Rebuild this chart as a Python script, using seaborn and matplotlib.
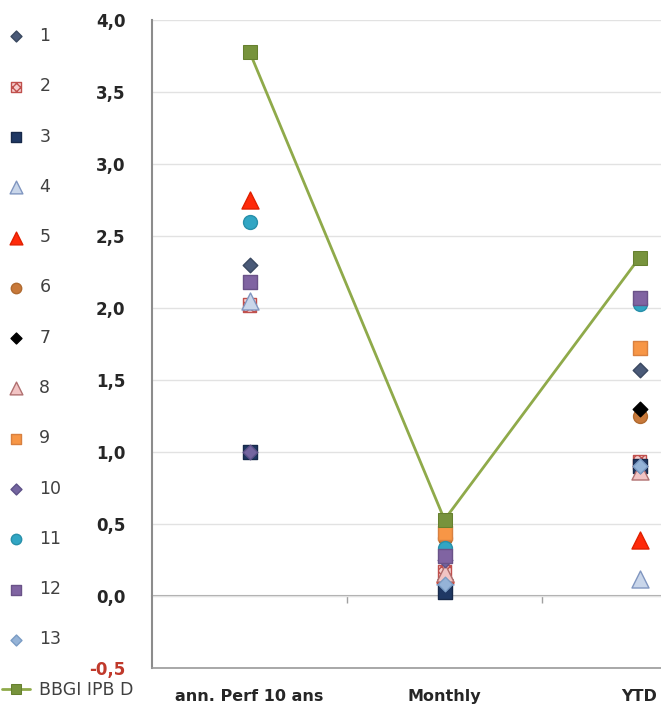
import numpy as np
import pandas as pd
import matplotlib
matplotlib.use("Agg")
import matplotlib.pyplot as plt
import seaborn as sns

nan = np.nan
categories = ["ann. Perf 10 ans", "Monthly", "YTD"]
s1 = [2.30, 0.10, 1.57]
s2 = [2.02, 0.17, 0.93]
s3 = [1.00, 0.03, 0.90]
s4 = [2.05, 0.14, 0.12]
s5 = [2.75, 0.15, 0.39]
s6 = [nan, 0.40, 1.25]
s7 = [nan, 0.12, 1.30]
s8 = [nan, 0.16, 0.87]
s9 = [nan, 0.44, 1.72]
s10 = [1.00, 0.25, 0.90]
s11 = [2.60, 0.33, 2.03]
s12 = [2.18, 0.28, 2.07]
s13 = [nan, 0.08, 0.90]
bbgi = [3.78, 0.53, 2.35]

series = [("1", s1), ("2", s2), ("3", s3), ("4", s4), ("5", s5), ("6", s6), ("7", s7),
          ("8", s8), ("9", s9), ("10", s10), ("11", s11), ("12", s12), ("13", s13)]

# marker, face, edge, size
styles = {
    "1": ("D", "#4A5A78", "#3A4860", 55),
    "2": ("s", "#F6D0D0", "#C0504D", 95),
    "3": ("s", "#1F3864", "#17294A", 95),
    "4": ("^", "#C9D6EA", "#8096C0", 150),
    "5": ("^", "#FF2A0A", "#E02000", 150),
    "6": ("o", "#C8793A", "#B06A30", 100),
    "7": ("D", "#000000", "#000000", 55),
    "8": ("^", "#F2C4C4", "#B07070", 150),
    "9": ("s", "#F79646", "#D88040", 95),
    "10": ("D", "#7465A0", "#5E5288", 55),
    "11": ("o", "#31A6C4", "#2890AA", 100),
    "12": ("s", "#8064A2", "#6A5288", 95),
    "13": ("D", "#95B3D7", "#7A9CC4", 55),
}

sns.set_style("white")
plt.rcParams["font.family"] = ["DejaVu Sans"]

fig = plt.figure(figsize=(6.61, 7.06), dpi=100)
ax = fig.add_axes([152 / 661, 38 / 706, 585 / 661, 648 / 706])

for name, vals in series:
    df = pd.DataFrame({"cat": categories, "val": vals})
    m, fc, ec, s = styles[name]
    kw = dict(hatch="xxxx") if name == "2" else {}
    sns.scatterplot(data=df, x="cat", y="val", marker=m, color=fc, edgecolor=ec,
                    linewidth=1, s=s, ax=ax, zorder=3, label=name, **kw)

dfb = pd.DataFrame({"cat": categories, "val": bbgi})
sns.lineplot(data=dfb, x="cat", y="val", color="#8FAA4A", linewidth=2, marker="s",
             markersize=10, markerfacecolor="#77933C", markeredgecolor="#66802F",
             ax=ax, zorder=4, label="BBGI IPB D")

ax.set_xlim(-0.5, 2.5)
ax.set_ylim(-0.5, 4.0)
yt = np.arange(-0.5, 4.01, 0.5)
ax.set_yticks(yt)
ax.set_yticklabels([f"{v:.1f}".replace(".", ",") for v in yt], fontweight="bold", fontsize=12)
ax.get_yticklabels()[0].set_color("#C0392B")
ax.set_xticks(range(len(categories)))
ax.set_xticklabels(categories, fontweight="bold", fontsize=11.5)
ax.tick_params(axis="x", length=0, pad=15)
ax.tick_params(axis="y", length=5, width=1, color="#8C8C8C", pad=14)
ax.set_xlabel("")
ax.set_ylabel("")
ax.yaxis.grid(True, color="#E2E2E2", linewidth=1)
ax.xaxis.grid(False)
for sp in ["top", "right"]:
    ax.spines[sp].set_visible(False)
ax.spines["left"].set_color("#8C8C8C")
ax.spines["left"].set_linewidth(1.5)
ax.spines["bottom"].set_color("#9A9A9A")
ax.spines["bottom"].set_linewidth(1.2)

# category axis crossing at zero
sec = ax.secondary_xaxis(0.5 / 4.5)
sec.set_xticks([0.5, 1.5])
sec.set_xticklabels([])
sec.xaxis.set_ticks_position("bottom")
sec.tick_params(length=5, width=1, color="#A0A0A0", direction="out")
for sp in sec.spines.values():
    sp.set_color("#A8A8A8")
    sp.set_linewidth(1.5)

h, l = ax.get_legend_handles_labels()
ax.get_legend().remove()
fig.legend(h, l, loc="upper left", bbox_to_anchor=(0.003, 1 - 27 / 706),
           frameon=False, fontsize=12.5, labelspacing=1.86, handlelength=1.6,
           handletextpad=0.55, borderpad=0, borderaxespad=0, markerscale=0.75,
           labelcolor="#404040")

fig.savefig("out.png", dpi=100)
